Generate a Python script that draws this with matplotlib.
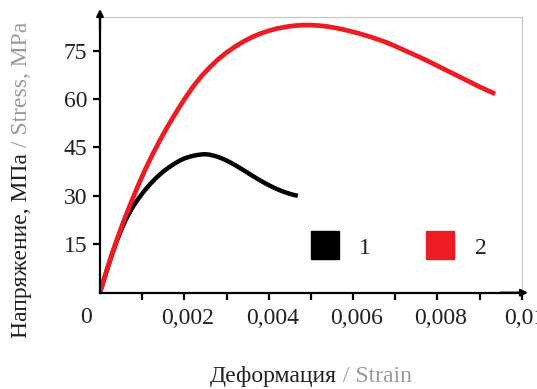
import matplotlib.pyplot as plt
import matplotlib.transforms as mtransforms
from matplotlib.lines import Line2D
import numpy as np

plt.rcParams['font.family'] = ['Liberation Serif', 'DejaVu Serif']

# curve 1 (black)
strain1 = [0, 0.0001, 0.0002, 0.0003, 0.0004, 0.0005, 0.0006, 0.0007, 0.0008,
           0.0009, 0.001, 0.0011, 0.0012, 0.0013, 0.0014, 0.0015, 0.0016,
           0.0017, 0.0018, 0.0019, 0.002, 0.0021, 0.0022, 0.0023, 0.0024,
           0.0025, 0.0026, 0.0027, 0.0028, 0.0029, 0.003, 0.0031, 0.0032,
           0.0033, 0.0034, 0.0035, 0.0036, 0.0037, 0.0038, 0.0039, 0.004,
           0.0041, 0.0042, 0.0043, 0.0044, 0.0045, 0.0046, 0.00469]
stress1 = [0, 4.3, 8.45, 12.4, 16.05, 19.35, 22.3, 24.85, 27.0,
           28.92, 30.69, 32.31, 33.79, 35.15, 36.39, 37.51, 38.51,
           39.41, 40.23, 40.98, 41.58, 42.03, 42.38, 42.65, 42.83,
           42.9, 42.75, 42.45, 42.05, 41.55, 40.95, 40.28, 39.55,
           38.78, 37.98, 37.16, 36.34, 35.54, 34.77, 34.03, 33.33,
           32.68, 32.08, 31.54, 31.06, 30.64, 30.28, 30.0]

# curve 2 (red)
strain2 = [0, 0.0001, 0.0002, 0.0003, 0.0004, 0.0005, 0.0006, 0.0007, 0.0008,
           0.0009, 0.001, 0.0011, 0.0012, 0.0013, 0.0014, 0.0015, 0.0016,
           0.0017, 0.0018, 0.0019, 0.002, 0.0022, 0.0024, 0.0026, 0.0028,
           0.003, 0.0032, 0.0034, 0.0036, 0.0038, 0.004, 0.0042, 0.0044,
           0.0046, 0.0048, 0.005, 0.0052, 0.0054, 0.0056, 0.0058, 0.006,
           0.0062, 0.0064, 0.0066, 0.0068, 0.007, 0.0072, 0.0074, 0.0076,
           0.0078, 0.008, 0.0082, 0.0084, 0.0086, 0.0088, 0.009, 0.0092,
           0.00937]
stress2 = [0, 4.4, 8.6, 12.6, 16.4, 20.0, 23.45, 26.75, 29.95,
           33.05, 36.05, 38.9, 41.6, 44.2, 46.7, 49.1, 51.4,
           53.6, 55.75, 57.85, 59.9, 63.7, 67.0, 69.8, 72.3,
           74.4, 76.2, 77.8, 79.15, 80.25, 81.15, 81.85, 82.35,
           82.7, 82.9, 82.9, 82.75, 82.45, 82.0, 81.45, 80.8,
           80.1, 79.3, 78.45, 77.5, 76.4, 75.2, 74.05, 72.85,
           71.6, 70.3, 69.0, 67.7, 66.4, 65.1, 63.8, 62.6,
           61.6]

labels = ['1', '2']
colors = ['#000000', '#ed1c24']
yticks = [15, 30, 45, 60, 75]
xticks = np.arange(1, 11) * 0.001
xticklabels = ['', '0,002', '', '0,004', '', '0,006', '', '0,008', '', '0,01']

dark = '#231f20'
grey = '#9a9a9a'

fig = plt.figure(figsize=(5.37, 3.89), dpi=100)
ax = fig.add_axes([0.1862, 0.2476, 0.7853, 0.7094])

ax.plot(strain1, stress1, color=colors[0], lw=3.2,
        solid_joinstyle='round', solid_capstyle='butt')
ax.plot(strain2, stress2, color=colors[1], lw=3.4,
        solid_joinstyle='round', solid_capstyle='butt')

ax.set_xlim(0, 0.01)
ax.set_ylim(0, 85.5)
ax.set_yticks(yticks)
ax.set_xticks(xticks)
ax.set_xticklabels(xticklabels)
ax.tick_params(axis='both', direction='out', length=5, width=1.6, colors='k',
               labelsize=17, labelcolor=dark)
ax.tick_params(axis='y', pad=4)
ax.tick_params(axis='x', pad=6)

# x tick labels sit a bit to the right of their ticks
shift = mtransforms.ScaledTranslation(3.5 / 100, 0, fig.dpi_scale_trans)
for lab in ax.get_xticklabels():
    lab.set_transform(lab.get_transform() + shift)

for s in ['left', 'bottom']:
    ax.spines[s].set_linewidth(1.6)
    ax.spines[s].set_color('k')
for s in ['top', 'right']:
    ax.spines[s].set_linewidth(0.9)
    ax.spines[s].set_color('#c8c8c8')

# arrows on the axes
ax.annotate('', xy=(0, 1.028), xytext=(0, 0.95), xycoords='axes fraction',
            arrowprops=dict(arrowstyle='-|>', color='k', lw=1.6,
                            mutation_scale=10, shrinkA=0, shrinkB=0))
ax.annotate('', xy=(1.015, 0), xytext=(0.95, 0), xycoords='axes fraction',
            arrowprops=dict(arrowstyle='-|>', color='k', lw=1.6,
                            mutation_scale=10, shrinkA=0, shrinkB=0))

ax.annotate('0', xy=(0, 0), xycoords='axes fraction', xytext=(-14, -25),
            textcoords='offset pixels', ha='center', va='center',
            fontsize=17, color=dark)

handles = [Line2D([], [], marker='s', ms=20, color=c, mec=c, linestyle='none')
           for c in colors]
ax.legend(handles, labels, ncol=2, loc='center', bbox_to_anchor=(0.706, 0.162),
          frameon=False, fontsize=17, handlelength=1.3, handletextpad=0.8,
          columnspacing=2.3, borderpad=0, labelcolor=dark)

# two-coloured axis labels
fig.canvas.draw()
t1 = fig.text(210 / 537, 1 - 382 / 389, 'Деформация', fontsize=17,
              color=dark, ha='left', va='baseline')
fig.canvas.draw()
bb = t1.get_window_extent()
fig.text(bb.x1 / 537, 1 - 382 / 389, ' / Strain', fontsize=17,
         color=grey, ha='left', va='baseline')

t2 = fig.text(27 / 537, 1 - 338 / 389, 'Напряжение, МПа', fontsize=17,
              color=dark, rotation=90, rotation_mode='anchor',
              ha='left', va='baseline')
fig.canvas.draw()
bb = t2.get_window_extent()
fig.text(27 / 537, bb.y1 / 389, ' / Stress, MPa', fontsize=17, color=grey,
         rotation=90, rotation_mode='anchor', ha='left', va='baseline')

fig.savefig('out.png', dpi=100)
